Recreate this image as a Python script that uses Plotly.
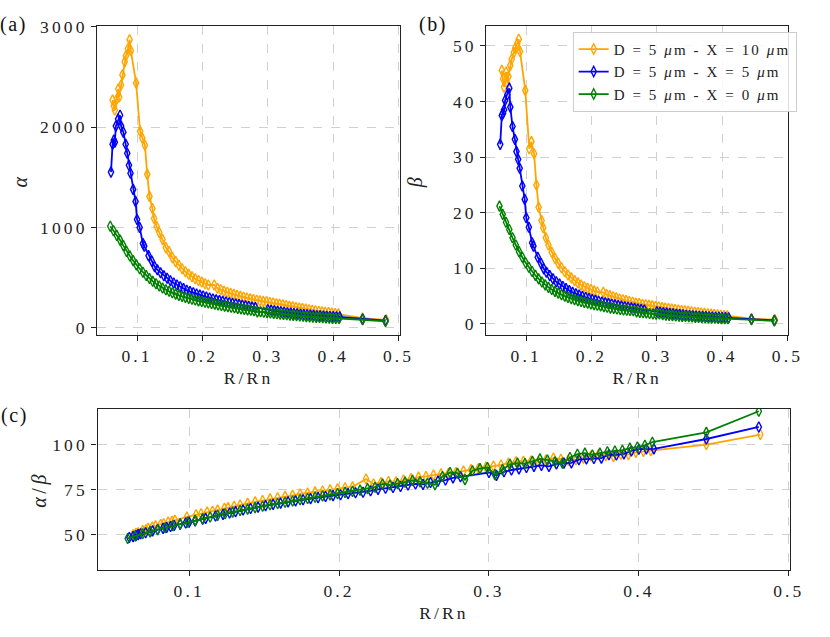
import plotly.graph_objects as go

# ---------------- data ----------------
x_x10 = [0.0626, 0.0645, 0.066, 0.069, 0.0712, 0.0727, 0.0755, 0.0776, 0.081, 0.083, 0.086, 0.0886, 0.0905,
         0.0985, 0.1046, 0.108, 0.112, 0.1156, 0.119, 0.1235, 0.126, 0.130,
         0.134, 0.139, 0.144, 0.149, 0.154, 0.159, 0.164, 0.169, 0.174, 0.179, 0.184, 0.189, 0.194, 0.199,
         0.204, 0.209,
         0.218, 0.223, 0.228, 0.233, 0.238, 0.243, 0.248, 0.253, 0.258, 0.263, 0.268, 0.273, 0.278, 0.283,
         0.288, 0.293, 0.298, 0.303, 0.308, 0.313, 0.318, 0.323, 0.328, 0.333, 0.338, 0.343, 0.348, 0.353,
         0.358, 0.363, 0.368, 0.373, 0.378, 0.383, 0.388, 0.393, 0.398, 0.403, 0.408,
         0.445, 0.481]
alpha_x10 = [2270, 2210, 2170, 2280, 2380, 2300, 2420, 2520, 2650, 2710, 2780, 2870, 2760,
             2440, 1960, 1890, 1820, 1530, 1310, 1190, 1090, 1010,
             950, 880, 800, 760, 700, 660, 625, 590, 560, 535, 510, 490, 472, 458, 440, 428,
             428, 395, 380, 366, 356, 344, 334, 324, 315, 306, 298, 290, 283, 276, 270, 265, 261, 254,
             248, 241, 236, 230, 224, 215, 210, 204, 199, 194, 188, 182, 177, 172, 167, 162, 157, 153,
             148, 144, 140,
             98, 81]
beta_x10 = [45.6, 44.1, 42.6, 45.3, 43.2, 44.5, 46.5, 47.6, 48.8, 49.6, 50.4, 51.2, 49.0,
            42.0, 31.5, 32.8, 30.6, 25.0, 21.0, 18.6, 17.3, 15.5,
            14.2, 12.9, 11.8, 10.9, 10.1, 9.4, 8.8, 8.3, 7.8, 7.4, 7.0, 6.7, 6.4, 6.2, 5.95, 5.75,
            5.7, 5.3, 5.1, 4.9, 4.7, 4.5, 4.35, 4.2, 4.05, 3.9, 3.75, 3.65, 3.55, 3.45, 3.35, 3.25, 3.15,
            3.05, 2.95, 2.85, 2.77, 2.68, 2.6, 2.51, 2.43, 2.35, 2.27, 2.2, 2.12, 2.05, 1.98, 1.91, 1.84,
            1.77, 1.7, 1.63, 1.56, 1.5, 1.45,
            0.98, 0.77]
ratio_x10 = [49.8, 50.6, 51.0, 52.2, 52.6, 53.4, 54.2, 54.8, 55.6, 56.0, 56.9, 57.3, 57.9,
             59.8, 61.0, 61.6, 62.5, 63.0, 63.6, 64.6, 65.0, 65.8,
             66.5, 67.4, 68.2, 69.0, 69.9, 70.5, 71.3, 71.9, 72.6, 73.1, 73.8, 74.3, 75.0, 75.5, 76.1, 76.6,
             81.0, 78.2, 79.0, 79.6, 79.4, 80.4, 81.2, 82.0, 82.4, 83.2, 83.8, 84.2, 84.6, 85.4, 86.2, 86.8,
             87.6, 88.2, 88.8, 89.8, 90.6, 90.9, 91.0, 90.6, 91.6, 92.6, 92.0, 91.4, 91.8, 92.6, 93.8, 94.6,
             94.0, 93.6, 94.8, 94.6, 95.8, 96.4, 96.8,
             100.2, 105.8]

x_x5 = [0.0601, 0.0626, 0.0645, 0.066, 0.0676, 0.071, 0.074, 0.0756, 0.079, 0.0826, 0.085, 0.0876, 0.090,
        0.094, 0.0977, 0.100, 0.104, 0.109, 0.111, 0.1176, 0.1226, 0.127, 0.131,
        0.136, 0.141, 0.146, 0.151, 0.156, 0.161, 0.166, 0.171, 0.176, 0.181, 0.186, 0.191, 0.196, 0.201,
        0.206, 0.211, 0.216, 0.221, 0.226, 0.231, 0.236, 0.241, 0.246, 0.251, 0.256, 0.261, 0.266, 0.271,
        0.276, 0.281,
        0.300, 0.305, 0.310, 0.315, 0.320, 0.325, 0.330, 0.335, 0.340, 0.345, 0.350, 0.355, 0.360, 0.365,
        0.370, 0.375, 0.380, 0.385, 0.390, 0.395, 0.400, 0.405, 0.410,
        0.445, 0.480]
alpha_x5 = [1552, 1830, 1870, 1850, 2010, 2080, 2118, 2010, 1950, 1830, 1740, 1620, 1540,
            1380, 1260, 1080, 1000, 840, 815, 720, 665, 610, 580,
            550, 520, 495, 470, 448, 428, 410, 392, 376, 362, 350, 338, 327, 318, 308, 298, 288, 280,
            272, 265, 258, 251, 244, 238, 232, 226, 220, 214, 208, 203,
            182, 176, 171, 166, 161, 157, 152, 148, 144, 140, 137, 134, 131, 128, 125, 122, 120, 118,
            116, 114, 113, 111, 110,
            88, 73]
beta_x5 = [32.3, 37.5, 37.9, 38.5, 40.2, 41.2, 42.4, 39.0, 35.5, 33.2, 31.0, 29.6, 28.0,
           24.8, 22.4, 19.1, 17.4, 14.6, 14.0, 12.0, 10.9, 9.9, 9.3,
           8.7, 8.1, 7.6, 7.2, 6.75, 6.35, 6.0, 5.7, 5.42, 5.18, 4.96, 4.75, 4.56, 4.4, 4.24, 4.08, 3.93,
           3.8, 3.67, 3.55, 3.43, 3.32, 3.2, 3.1, 3.0, 2.9, 2.8, 2.7, 2.6, 2.52,
           2.2, 2.1, 2.02, 1.95, 1.88, 1.81, 1.75, 1.69, 1.63, 1.57, 1.52, 1.48, 1.44, 1.4, 1.36, 1.32,
           1.29, 1.26, 1.22, 1.19, 1.17, 1.14, 1.12,
           0.86, 0.66]
ratio_x5 = [48.3, 48.8, 49.4, 49.9, 50.4, 51.0, 51.6, 52.0, 52.7, 53.4, 53.9, 54.5, 55.0,
            55.8, 56.4, 56.9, 57.6, 58.6, 59.0, 60.3, 61.2, 62.0, 62.8,
            63.7, 64.5, 65.3, 66.1, 66.8, 67.5, 68.2, 68.8, 69.4, 70.0, 70.6, 71.2, 71.7, 72.2, 72.8, 73.3,
            73.6, 74.4, 75.2, 75.8, 76.2, 76.8, 77.6, 78.2, 78.0, 79.0, 79.8, 80.4, 81.6, 82.2,
            84.6, 83.0, 85.0, 86.0, 86.6, 87.4, 88.0, 88.6, 88.0, 89.4, 89.8, 90.0, 91.8, 92.2, 92.4, 92.6,
            94.6, 94.4, 95.0, 96.6, 97.6, 97.8, 97.8,
            103.3, 110.0]

x_x0 = [0.059, 0.064, 0.069, 0.074, 0.079, 0.084, 0.089, 0.094, 0.099, 0.104, 0.109, 0.114, 0.119, 0.124,
        0.129, 0.134, 0.139, 0.144, 0.149, 0.154, 0.159, 0.164, 0.169, 0.174, 0.179, 0.184, 0.189, 0.194,
        0.199, 0.204, 0.209, 0.214, 0.219, 0.224, 0.229, 0.234, 0.239, 0.244, 0.249, 0.254, 0.259, 0.264,
        0.269, 0.274, 0.279, 0.284, 0.289, 0.294, 0.299, 0.304, 0.309, 0.314, 0.319, 0.324, 0.329, 0.334,
        0.339, 0.344, 0.349, 0.354, 0.359, 0.364, 0.369, 0.374, 0.379, 0.384, 0.389, 0.394, 0.399, 0.404,
        0.409, 0.445, 0.480]
alpha_x0 = [1013, 968, 922, 875, 820, 762, 716, 671, 628, 590, 555, 522, 492, 465, 440, 418, 398, 381,
            365, 350, 337, 325, 314, 304, 295, 286, 278, 270, 263, 256, 250, 244, 237, 230, 224, 218,
            212, 206, 201, 195, 190, 185, 180, 176, 171, 160, 161, 157, 153, 149, 145, 141, 138, 135,
            131, 128, 125, 122, 119, 116, 113, 111, 108, 106, 104, 102, 100, 98, 96, 95, 94, 82, 65]
beta_x0 = [21.2, 19.7, 18.3, 17.0, 15.5, 14.2, 13.0, 12.0, 11.0, 10.2, 9.44, 8.73, 8.11, 7.55, 7.04,
           6.59, 6.2, 5.86, 5.55, 5.26, 5.01, 4.78, 4.57, 4.38, 4.21, 4.04, 3.89, 3.74, 3.61, 3.48, 3.37,
           3.26, 3.13, 3.01, 2.86, 2.81, 2.70, 2.60, 2.51, 2.46, 2.42, 2.38, 2.18, 2.08, 2.03, 1.99, 1.88,
           1.81, 1.75, 1.79, 1.68, 1.58, 1.54, 1.51, 1.44, 1.39, 1.36, 1.35, 1.33, 1.25, 1.19, 1.16, 1.14,
           1.11, 1.08, 1.06, 1.03, 1.0, 0.97, 0.95, 0.93, 0.77, 0.55]
ratio_x0 = [47.8, 49.2, 50.4, 51.6, 52.8, 53.8, 54.9, 55.9, 56.9, 57.9, 58.8, 59.8, 60.7, 61.6, 62.5,
            63.4, 64.2, 65.0, 65.8, 66.6, 67.3, 68.0, 68.7, 69.4, 70.1, 70.8, 71.5, 72.1, 72.8, 73.5,
            74.1, 74.8, 75.6, 76.4, 78.2, 77.6, 78.4, 79.2, 80.2, 79.4, 78.6, 77.8, 82.4, 84.6, 84.2,
            80.6, 85.6, 86.8, 87.4, 83.4, 86.2, 89.2, 89.8, 89.6, 90.8, 92.2, 91.6, 90.6, 89.8, 93.0,
            94.8, 95.4, 94.4, 95.4, 96.2, 96.6, 97.0, 98.2, 98.8, 99.8, 101.5, 107.0, 118.8]

series_names = ["D = 5 <i>μ</i>m - X = 10 <i>μ</i>m",
                "D = 5 <i>μ</i>m - X = 5 <i>μ</i>m",
                "D = 5 <i>μ</i>m - X = 0 <i>μ</i>m"]
series_colors = ["#FFA500", "#0000FF", "#008000"]

x_ticks = [0.1, 0.2, 0.3, 0.4, 0.5]
alpha_ticks = [0, 1000, 2000, 3000]
beta_ticks = [0, 10, 20, 30, 40, 50]
ratio_ticks = [50, 75, 100]

# ---------------- layout helpers ----------------
W, H = 830, 637
ML, MR, MT, MB = 60, 10, 10, 50
PW, PH = W - ML - MR, H - MT - MB
FONT = "Liberation Serif, Times New Roman, serif"


def xd(px):
    return (px - ML) / PW


def yd(py):
    return (H - MB - py) / PH


fig = go.Figure()
data = [(x_x10, alpha_x10, beta_x10, ratio_x10),
        (x_x5, alpha_x5, beta_x5, ratio_x5),
        (x_x0, alpha_x0, beta_x0, ratio_x0)]

for (xs, a, b, r), name, col in zip(data, series_names, series_colors):
    style = dict(mode="lines+markers",
                 line=dict(color=col, width=1.8),
                 marker=dict(symbol="diamond-tall-open", size=7.5, color=col, line=dict(width=1.4)))
    fig.add_trace(go.Scatter(x=xs, y=a, xaxis="x", yaxis="y", name=name, legendgroup=name,
                             showlegend=False, **style))
    fig.add_trace(go.Scatter(x=xs, y=b, xaxis="x2", yaxis="y2", name=name, legendgroup=name,
                             showlegend=True, **style))
    fig.add_trace(go.Scatter(x=xs, y=r, xaxis="x3", yaxis="y3", name=name, legendgroup=name,
                             showlegend=False, **style))

axis_common = dict(showline=True, linecolor="#222222", linewidth=1.3, mirror=True,
                   ticks="outside", ticklen=5, tickwidth=1.2, tickcolor="#222222",
                   showgrid=True, gridcolor="#d0d0d0", griddash="dash", gridwidth=0.9,
                   zeroline=False, tickfont=dict(size=17.5, color="#222222"))

xt = dict(tickmode="array", tickvals=x_ticks, ticktext=[str(v) for v in x_ticks])
fig.update_layout(
    width=W, height=H,
    margin=dict(l=ML, r=MR, t=MT, b=MB),
    paper_bgcolor="white", plot_bgcolor="white",
    font=dict(family=FONT, color="#222222"),
    xaxis=dict(domain=[xd(98), xd(406.7)], range=[0.0391, 0.502], anchor="y", **xt,
               title=dict(text="R/Rn", font=dict(size=17.5), standoff=6), **axis_common),
    yaxis=dict(domain=[yd(331), yd(17)], range=[-70, 3008], anchor="x",
               tickmode="array", tickvals=alpha_ticks, ticktext=[str(v) for v in alpha_ticks],
               title=dict(text="<i>α</i>", font=dict(size=20), standoff=6), **axis_common),
    xaxis2=dict(domain=[xd(495), xd(802.7)], range=[0.039, 0.501], anchor="y2", **xt,
                title=dict(text="R/Rn", font=dict(size=17.5), standoff=6), **axis_common),
    yaxis2=dict(domain=[yd(331), yd(17)], range=[-1.98, 53.6], anchor="x2",
                tickmode="array", tickvals=beta_ticks, ticktext=[str(v) for v in beta_ticks],
                title=dict(text="<i>β</i>", font=dict(size=20), standoff=24), **axis_common),
    xaxis3=dict(domain=[xd(98.3), xd(805)], range=[0.0389, 0.501], anchor="y3", **xt,
                title=dict(text="R/Rn", font=dict(size=17.5), standoff=6), **axis_common),
    yaxis3=dict(domain=[yd(570), yd(405.7)], range=[30.05, 120.3], anchor="x3",
                tickmode="array", tickvals=ratio_ticks, ticktext=[str(v) for v in ratio_ticks],
                title=dict(text="<i>α</i>/<i>β</i>", font=dict(size=20), standoff=0), **axis_common),
    legend=dict(x=xd(583), y=yd(23), xanchor="left", yanchor="top",
                bgcolor="rgba(255,255,255,0.85)", bordercolor="#cccccc", borderwidth=1,
                font=dict(size=15, color="#222222"), itemwidth=30,
                tracegroupgap=0),
    annotations=[
        dict(text="(a)", x=xd(13), y=yd(16), xref="paper", yref="paper", showarrow=False,
             xanchor="center", yanchor="middle", font=dict(size=20, color="#111111")),
        dict(text="(b)", x=xd(441), y=yd(16), xref="paper", yref="paper", showarrow=False,
             xanchor="center", yanchor="middle", font=dict(size=20, color="#111111")),
        dict(text="(c)", x=xd(14), y=yd(413), xref="paper", yref="paper", showarrow=False,
             xanchor="center", yanchor="middle", font=dict(size=20, color="#111111")),
    ],
)

# Page tweaks: the page is exactly the figure (no default body margin, no overflow), and the
# text gets the same wide letter spacing as the reference (then redraw so plotly re-measures it).
post_js = """
var st = document.createElement('style');
st.textContent = 'html,body{margin:0;padding:0;width:830px;height:637px;overflow:hidden;}'
  + ' text{letter-spacing:0.18em;} .legendtext{letter-spacing:0.14em;} .annotation-text{letter-spacing:0.08em;}';
document.head.appendChild(st);
var gd = document.getElementById('{plot_id}');
Plotly.relayout(gd, {'font.family': 'Liberation Serif, serif'});
"""
fig.write_html("out.html", post_script=post_js, config={"displayModeBar": False})
